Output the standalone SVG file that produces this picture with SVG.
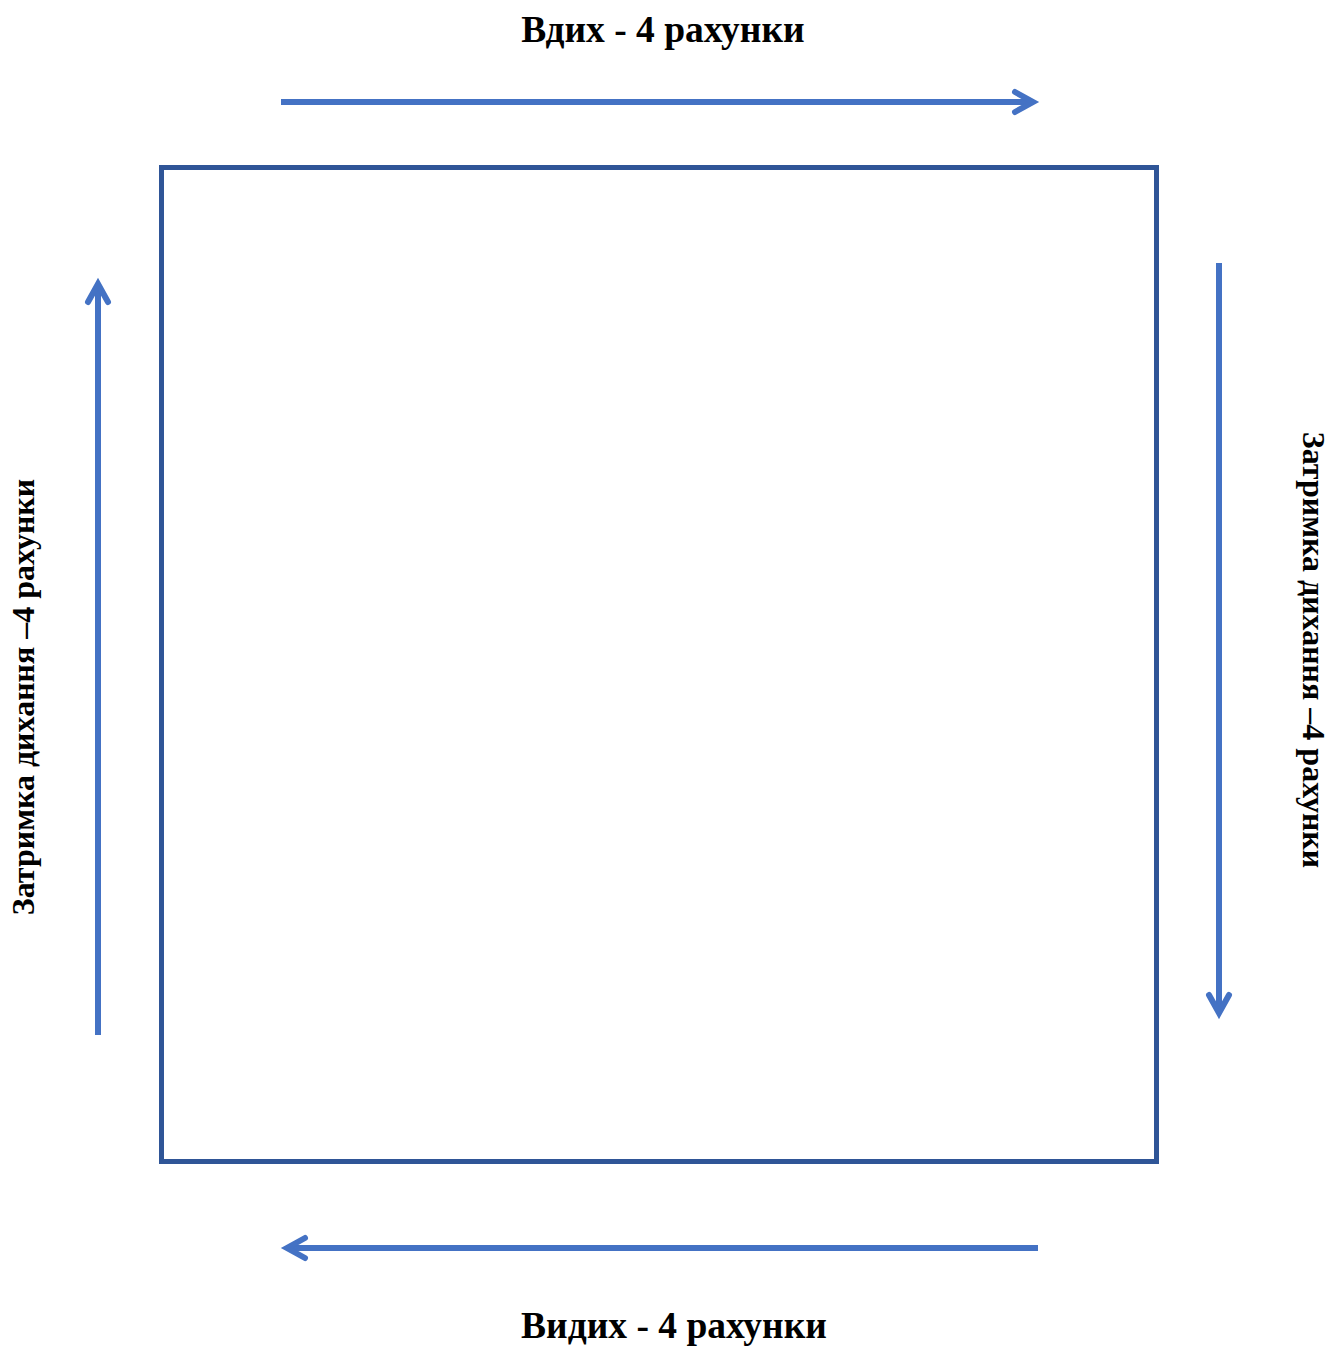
<svg xmlns="http://www.w3.org/2000/svg" width="1330" height="1349" viewBox="0 0 1330 1349">
<style>
.lbl{font-family:"Liberation Serif","Times New Roman",serif;font-weight:bold;font-size:37.5px;fill:#000;text-anchor:middle}
.vlbl{font-size:32px}
.arr{stroke:#4472C4;stroke-width:6;fill:none}
.head{stroke:#4472C4;stroke-width:6;fill:none;stroke-linecap:round;stroke-linejoin:miter}
</style>
<rect width="1330" height="1349" fill="#fff"/>
<g id="square">
<rect x="161.5" y="167.5" width="995" height="994" fill="none" stroke="#2F5597" stroke-width="5"/>
</g>
<g id="connectors">
<line class="arr" x1="281" y1="102" x2="1030" y2="102"/>
<polyline class="head" points="1015,92 1033,102 1015,112"/>
<line class="arr" x1="1219" y1="263" x2="1219" y2="1010"/>
<polyline class="head" points="1209,995 1219,1013 1229,995"/>
<line class="arr" x1="1038" y1="1248" x2="290" y2="1248"/>
<polyline class="head" points="305,1238 287,1248 305,1258"/>
<line class="arr" x1="98" y1="1035" x2="98" y2="287"/>
<polyline class="head" points="88,302 98,284 108,302"/>
</g>
<g id="label-top"><text class="lbl" x="663" y="42">Вдих - 4 рахунки</text></g>
<g id="label-bottom"><text class="lbl" x="674" y="1338">Видих - 4 рахунки</text></g>
<g id="label-left"><text class="lbl vlbl" transform="translate(34,697) rotate(-90)">Затримка дихання –4 рахунки</text></g>
<g id="label-right"><text class="lbl vlbl" transform="translate(1303,650) rotate(90)">Затримка дихання –4 рахунки</text></g>
</svg>
